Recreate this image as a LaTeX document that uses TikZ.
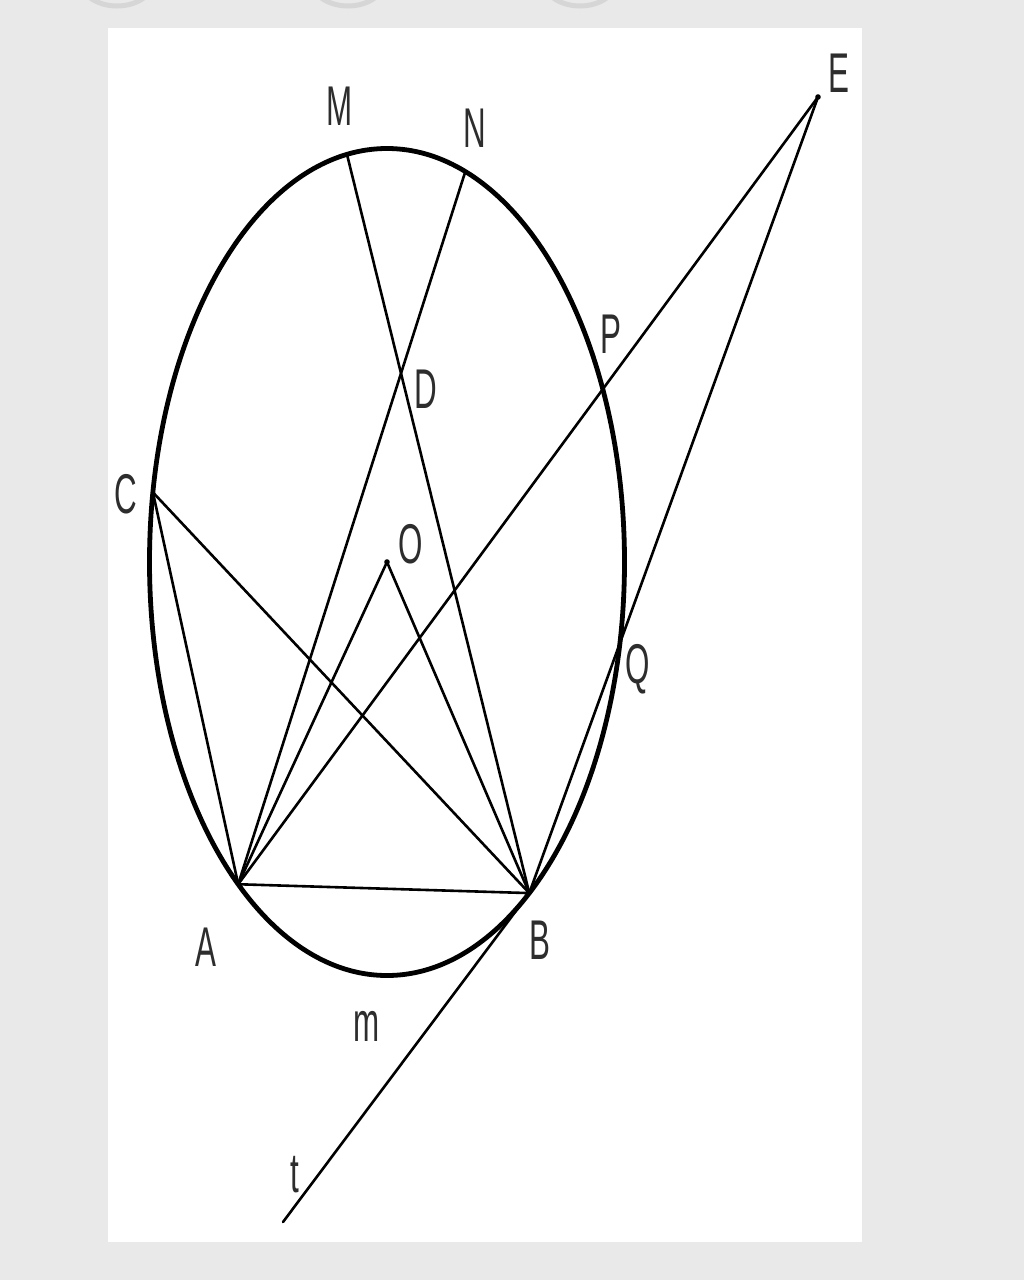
\documentclass[tikz,border=0pt]{standalone}
\usepackage{fontspec}
\setmainfont{Liberation Sans}
\usetikzlibrary{calc}
\definecolor{bggray}{RGB}{233,233,233}
\definecolor{ringgray}{RGB}{214,214,214}
\definecolor{txt}{RGB}{45,45,45}
\begin{document}
\begin{tikzpicture}[x=1pt,y=-1pt,
  lbl/.style={anchor=base,inner sep=0pt,text=txt,font=\fontsize{56}{56}\selectfont,xscale=0.56},
  ln/.style={line width=2.6pt,line cap=round},
  circ/.style={line width=4.8pt},
  ring/.style={draw=ringgray,line width=5pt}]
\useasboundingbox (0,0) rectangle (1024,1280);
\fill[bggray] (0,0) rectangle (1024,1280);
% top artifacts
\draw[ring] (117,-22) ellipse [x radius=38pt, y radius=28pt];
\draw[ring] (348,-22) ellipse [x radius=38pt, y radius=28pt];
\draw[ring] (580,-22) ellipse [x radius=38pt, y radius=28pt];
\fill[white] (108,28) rectangle (862,1242);
% points
\coordinate (O) at (387,562);
\coordinate (A) at ($(O)+(231.2:237.5pt and 413.5pt)$);
\coordinate (B) at ($(O)+(306.8:237.5pt and 413.5pt)$);
\coordinate (C) at ($(O)+(170.3:237.5pt and 413.5pt)$);
\coordinate (M) at ($(O)+(99.7:237.5pt and 413.5pt)$);
\coordinate (N) at ($(O)+(70.75:237.5pt and 413.5pt)$);
\coordinate (E) at (818,97);
\coordinate (T) at (283,1222);
% circle
\draw[circ] (O) ellipse [x radius=237.5pt, y radius=413.5pt];
% lines
\draw[ln] (A) -- (B);
\draw[ln] (C) -- (A);
\draw[ln] (C) -- (B);
\draw[ln] (O) -- (A);
\draw[ln] (O) -- (B);
\draw[ln] (M) -- (B);
\draw[ln] (N) -- (A);
\draw[ln] (A) -- (E);
\draw[ln] (B) -- (E);
\draw[ln] (T) -- (B);
\fill (O) circle (2.8pt);
\fill (E) circle (2.8pt);
% labels
\node[lbl] (lE) at (839,92) {E};
\node[lbl] (lM) at (340,125) {M};
\node[lbl] (lN) at (475,147) {N};
\node[lbl] (lP) at (611,353) {P};
\node[lbl] (lD) at (426,408) {D};
\node[lbl] (lC) at (126,513) {C};
\node[lbl] (lO) at (411,563) {O};
\node[lbl] (lQ) at (638,683) {Q};
\node[lbl] (lA) at (206,966) {A};
\node[lbl] (lB) at (540,959) {B};
\node[lbl] (lm) at (367,1041) {m};
\node[lbl] (lt) at (295,1192) {t};
\end{tikzpicture}
\end{document}
